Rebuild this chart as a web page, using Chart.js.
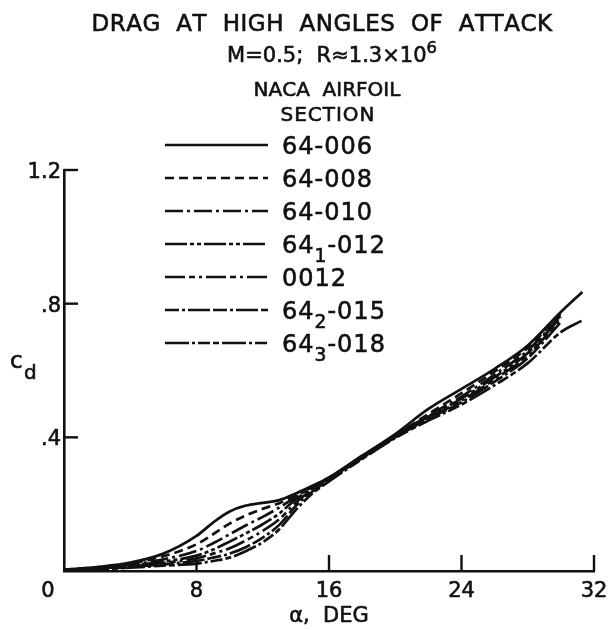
<!DOCTYPE html>
<html>
<head>
<meta charset="utf-8">
<script src="https://cdn.jsdelivr.net/npm/chart.js@4.4.0/dist/chart.umd.min.js"></script>
<style>
  html, body { margin: 0; padding: 0; background: #fff; }
  #wrap { width: 610px; height: 630px; }
</style>
</head>
<body>
<div id="wrap"><canvas id="drag-chart" width="610" height="630"></canvas></div>
<script>
// angle of attack, deg
const alpha = [0, 2, 4, 6, 8, 9, 10, 11, 12, 13, 14, 15, 16, 18, 20, 22, 24, 26, 28, 30, 31.3];

// section drag coefficient
const cd64006  = [0.004, 0.012, 0.025, 0.052, 0.105, 0.145, 0.178, 0.196, 0.204, 0.212, 0.232, 0.255, 0.280, 0.345, 0.410, 0.485, 0.545, 0.605, 0.675, 0.775, 0.835];
const cd64008  = [0.004, 0.011, 0.022, 0.044, 0.080, 0.110, 0.142, 0.167, 0.186, 0.203, 0.228, 0.254, 0.279, 0.344, 0.405, 0.470, 0.532, 0.597, 0.668, 0.770, null];
const cd64010  = [0.003, 0.009, 0.019, 0.035, 0.060, 0.083, 0.110, 0.137, 0.162, 0.190, 0.222, 0.252, 0.278, 0.343, 0.405, 0.465, 0.522, 0.588, 0.660, 0.765, null];
const cd641012 = [0.003, 0.008, 0.016, 0.028, 0.046, 0.064, 0.088, 0.113, 0.140, 0.172, 0.215, 0.248, 0.277, 0.342, 0.405, 0.462, 0.516, 0.580, 0.652, 0.760, null];
const cd0012   = [0.003, 0.007, 0.014, 0.024, 0.038, 0.052, 0.068, 0.092, 0.120, 0.155, 0.205, 0.244, 0.275, 0.340, 0.403, 0.458, 0.510, 0.574, 0.645, 0.755, null];
const cd642015 = [0.002, 0.006, 0.012, 0.020, 0.030, 0.040, 0.052, 0.072, 0.100, 0.138, 0.195, 0.238, 0.272, 0.338, 0.400, 0.455, 0.505, 0.567, 0.637, 0.745, null];
const cd643018 = [0.002, 0.005, 0.010, 0.016, 0.022, 0.030, 0.040, 0.060, 0.086, 0.125, 0.183, 0.232, 0.268, 0.335, 0.398, 0.450, 0.498, 0.556, 0.622, 0.715, 0.750];

const sections = ['64-006', '64-008', '64-010', '64₁-012', '0012', '64₂-015', '64₃-018'];
const seriesCd = [cd64006, cd64008, cd64010, cd641012, cd0012, cd642015, cd643018];

const xTicks = [0, 8, 16, 24, 32];
const yTicks = [0, 0.4, 0.8, 1.2];
const yTickLabels = ['', '.4', '.8', '1.2'];

// line styles for each section, same order as above
const dashes = [
  [],
  [9, 5],
  [18, 4, 3, 4],
  [22, 3, 4, 3, 4, 3],
  [20, 4, 6, 4, 3, 4],
  [14, 3, 3, 3, 22, 3],
  [24, 3, 3, 3, 12, 3, 6, 3]
];

const FONT = '"DejaVu Sans", "Liberation Sans", sans-serif';
const SUBS = '₀₁₂₃₄₅₆₇₈₉';
const SUPS = '⁰¹²³⁴⁵⁶⁷⁸⁹';

function glyph(ch, size) {
  if (SUBS.includes(ch)) return { c: String(SUBS.indexOf(ch)), s: size * 0.78, dy: size * 0.38 };
  if (SUPS.includes(ch)) return { c: String(SUPS.indexOf(ch)), s: size * 0.78, dy: -size * 0.42 };
  return { c: ch, s: size, dy: 0 };
}

// draws text, putting unicode sub/superscript digits as small lowered/raised digits
function drawRich(ctx, text, x, y, size, align, spacing) {
  ctx.save();
  ctx.fillStyle = '#111';
  ctx.strokeStyle = '#111';
  ctx.lineWidth = 0.6;
  ctx.textBaseline = 'alphabetic';
  ctx.textAlign = 'left';
  const sp = spacing || 0;
  let w = 0;
  for (const ch of text) {
    const g = glyph(ch, size);
    ctx.font = g.s + 'px ' + FONT;
    w += ctx.measureText(g.c).width + sp;
  }
  let cx = align === 'center' ? x - w / 2 : (align === 'right' ? x - w : x);
  for (const ch of text) {
    const g = glyph(ch, size);
    ctx.font = g.s + 'px ' + FONT;
    ctx.fillText(g.c, cx, y + g.dy);
    ctx.strokeText(g.c, cx, y + g.dy);
    cx += ctx.measureText(g.c).width + sp;
  }
  ctx.restore();
}

const decorations = {
  id: 'decorations',
  afterDraw(chart) {
    const ctx = chart.ctx;
    const xs = chart.scales.x, ys = chart.scales.y;
    const area = chart.chartArea;

    // inward tick marks
    ctx.save();
    ctx.strokeStyle = '#111';
    ctx.lineWidth = 2.4;
    yTicks.slice(1).forEach(v => {
      const py = ys.getPixelForValue(v);
      ctx.beginPath();
      ctx.moveTo(area.left, py);
      ctx.lineTo(area.left + 14, py);
      ctx.stroke();
    });
    xTicks.slice(1).forEach(v => {
      const px = xs.getPixelForValue(v);
      ctx.beginPath();
      ctx.moveTo(px, area.bottom);
      ctx.lineTo(px, area.bottom - 16);
      ctx.stroke();
    });
    ctx.restore();

    // tick labels
    xTicks.forEach(v => {
      const px = v === 0 ? xs.getPixelForValue(0) - 16 : xs.getPixelForValue(v);
      drawRich(ctx, String(v), px, area.bottom + 26, 21, 'center');
    });
    yTicks.forEach((v, i) => {
      if (!yTickLabels[i]) return;
      drawRich(ctx, yTickLabels[i], area.left - 3, ys.getPixelForValue(v) + 8, 21, 'right');
    });

    // axis titles
    drawRich(ctx, 'α,  DEG', (area.left + area.right) / 2, area.bottom + 51, 21, 'center');
    const midY = (area.top + area.bottom) / 2;
    drawRich(ctx, 'c', 10, midY - 3, 23, 'left');
    drawRich(ctx, 'd', 24, midY + 8, 20, 'left');

    // titles
    drawRich(ctx, 'DRAG  AT  HIGH  ANGLES  OF  ATTACK', 322, 31, 23, 'center', 0.5);
    drawRich(ctx, 'M=0.5;  R≈1.3×10⁶', 332, 62, 21, 'center');
    drawRich(ctx, 'NACA  AIRFOIL', 327, 96, 20, 'center');
    drawRich(ctx, 'SECTION', 328, 121, 20, 'center', 1);

    // key
    chart.data.datasets.forEach((ds, i) => {
      const y = 145 + i * 33;
      ctx.save();
      ctx.strokeStyle = '#111';
      ctx.lineWidth = 2.6;
      ctx.setLineDash(ds.borderDash);
      ctx.beginPath();
      ctx.moveTo(165, y);
      ctx.lineTo(268, y);
      ctx.stroke();
      ctx.restore();
      drawRich(ctx, ds.label, 282, y + 9, 24, 'left', 1);
    });
  }
};

const datasets = sections.map((name, i) => ({
  label: name,
  data: alpha.map((a, j) => ({ x: a, y: seriesCd[i][j] })),
  borderColor: '#111',
  borderWidth: 2.7,
  borderDash: dashes[i],
  pointRadius: 0,
  fill: false,
  cubicInterpolationMode: 'monotone',
  spanGaps: false
}));

new Chart(document.getElementById('drag-chart'), {
  type: 'line',
  data: { datasets: datasets },
  options: {
    responsive: false,
    animation: false,
    layout: { padding: { top: 170, right: 16, left: 0, bottom: 0 } },
    plugins: {
      legend: { display: false },
      tooltip: { enabled: false }
    },
    scales: {
      x: {
        type: 'linear',
        min: 0,
        max: 32,
        afterFit: s => { s.height = 59; },
        afterBuildTicks: s => { s.ticks = xTicks.map(v => ({ value: v })); },
        ticks: { display: false },
        grid: { drawOnChartArea: false, drawTicks: false, color: '#111' },
        border: { color: '#111', width: 2.6 }
      },
      y: {
        min: 0,
        max: 1.2,
        afterFit: s => { s.width = 64; },
        afterBuildTicks: s => { s.ticks = yTicks.map(v => ({ value: v })); },
        ticks: { display: false },
        grid: { drawOnChartArea: false, drawTicks: false, color: '#111' },
        border: { color: '#111', width: 2.6 }
      }
    }
  },
  plugins: [decorations]
});
</script>
</body>
</html>
